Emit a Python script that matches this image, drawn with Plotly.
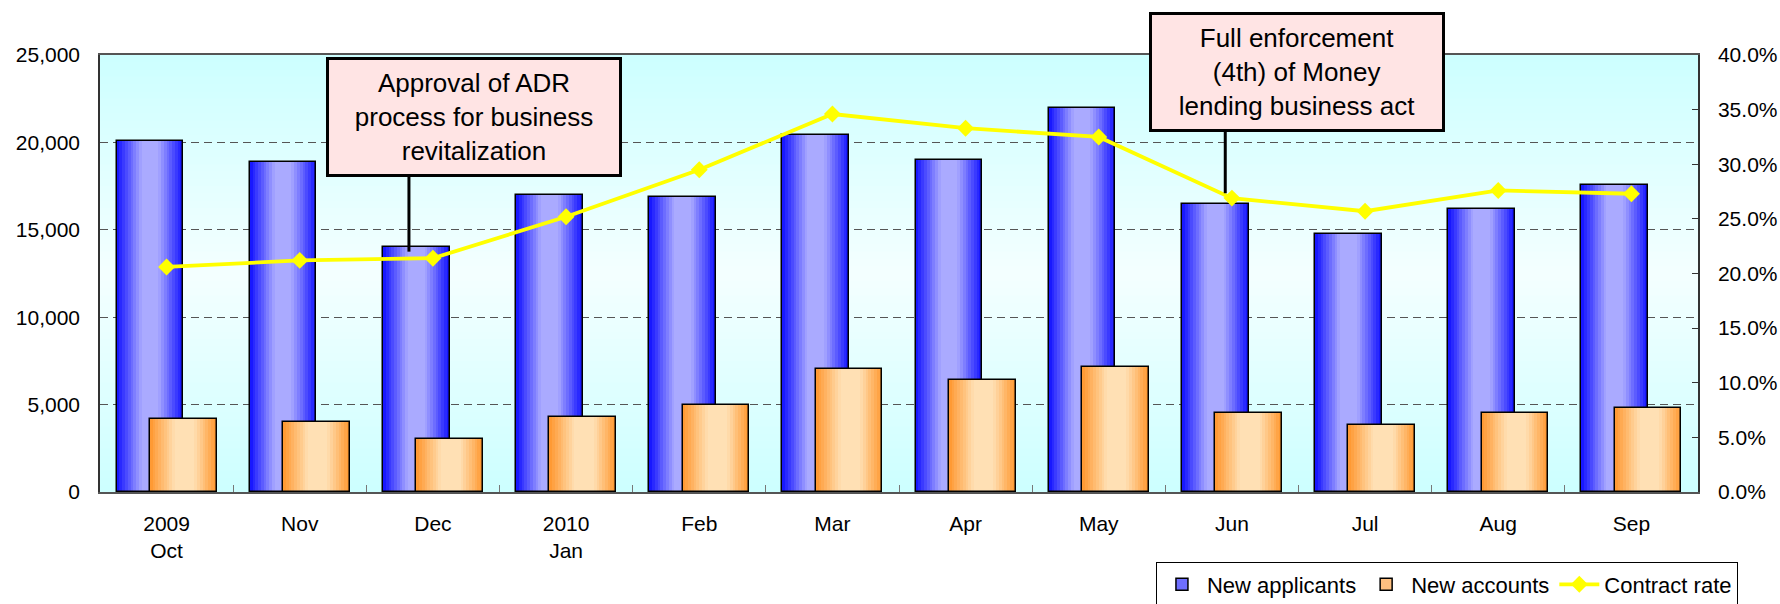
import plotly.graph_objects as go

# ---------------- data ----------------
categories = ["2009<br>Oct", "Nov", "Dec", "2010<br>Jan", "Feb", "Mar",
              "Apr", "May", "Jun", "Jul", "Aug", "Sep"]
new_applicants = [20100, 18900, 14000, 17000, 16900, 20400, 19000, 21950, 16500, 14750, 16200, 17550]
new_accounts = [4200, 4000, 3050, 4300, 5000, 7050, 6400, 7150, 4500, 3850, 4500, 4800]
contract_rate = [20.6, 21.2, 21.4, 25.2, 29.5, 34.6, 33.3, 32.5, 26.9, 25.7, 27.6, 27.3]

left_ticks = [0, 5000, 10000, 15000, 20000, 25000]
right_ticks = [0, 5, 10, 15, 20, 25, 30, 35, 40]
right_tick_text = ["0.0%", "5.0%", "10.0%", "15.0%", "20.0%", "25.0%", "30.0%", "35.0%", "40.0%"]

note1 = "Approval of ADR<br>process for business<br>revitalization"
note2 = "Full enforcement<br>(4th) of Money<br>lending business act"

FONT = "Liberation Sans, Arial, sans-serif"


def lerp(c1, c2, t):
    return "rgb(%d,%d,%d)" % tuple(round(a + (b - a) * t) for a, b in zip(c1, c2))


def profile(s, lo, hi):
    if s < lo:
        return s / lo
    if s > hi:
        return (1 - s) / (1 - hi)
    return 1.0


fig = go.Figure()

BAR_W = 0.5
N = 24


def gradient_bars(values, base_offset, dark, light, lo, hi, name):
    for k in range(N):
        s = (k + 0.5) / N
        t = profile(s, lo, hi)
        off = base_offset + k * BAR_W / N
        fig.add_trace(go.Bar(
            x=categories, y=values, offset=off, width=BAR_W - k * BAR_W / N,
            marker=dict(color=lerp(dark, light, t), line=dict(width=0)),
            showlegend=False, hoverinfo="skip"))
    fig.add_trace(go.Bar(
        x=categories, y=values, offset=base_offset, width=BAR_W, name=name,
        marker=dict(color="rgba(0,0,0,0)", line=dict(color="black", width=1.5)),
        showlegend=False))


gradient_bars(new_applicants, -0.375, (16, 16, 255), (170, 170, 255), 0.38, 0.62, "New applicants")
gradient_bars(new_accounts, -0.125, (255, 150, 45), (255, 224, 180), 0.38, 0.66, "New accounts")

# legend-only entries
fig.add_trace(go.Bar(x=[categories[0]], y=[None], name="New applicants",
                     marker=dict(color="#6e6eff", line=dict(color="black", width=1.5)),
                     legendrank=1))
fig.add_trace(go.Bar(x=[categories[0]], y=[None], name="New accounts",
                     marker=dict(color="#ffc080", line=dict(color="black", width=1.5)),
                     legendrank=2))

fig.add_trace(go.Scatter(
    x=categories, y=contract_rate, yaxis="y2", mode="lines+markers",
    name="Contract rate", line=dict(color="#ffff00", width=3.8),
    marker=dict(symbol="diamond", size=13, color="#ffff00"),
    legendrank=3))

# background gradient bands
shapes = []
NB = 60
c_edge = (204, 255, 255)
c_mid = (244, 255, 255)
for i in range(NB):
    t = (i + 0.5) / NB
    L = 1 - abs(t - 0.5) * 2
    shapes.append(dict(type="rect", xref="paper", yref="paper",
                       x0=0, x1=1, y0=i / NB, y1=(i + 1) / NB + 0.002,
                       fillcolor=lerp(c_edge, c_mid, L), line=dict(width=0),
                       layer="below"))

# connector lines for the notes
i_dec = categories.index("Dec")
i_jun = categories.index("Jun")
shapes.append(dict(type="line", xref="x", yref="y",
                   x0=i_dec - 0.18, x1=i_dec - 0.18,
                   y0=new_applicants[i_dec] - 250, y1=18300,
                   line=dict(color="black", width=3)))
shapes.append(dict(type="line", xref="x", yref="y",
                   x0=i_jun - 0.05, x1=i_jun - 0.05,
                   y0=contract_rate[i_jun] / 40 * 25000 + 280, y1=20800,
                   line=dict(color="black", width=3)))

annotations = [
    dict(text=note1, xref="paper", yref="paper", x=0.2343, y=0.858,
         xanchor="center", yanchor="middle", showarrow=False,
         width=280, height=104, borderpad=5, borderwidth=3,
         bordercolor="black", bgcolor="#ffe4e4",
         font=dict(family=FONT, size=26, color="black")),
    dict(text=note2, xref="paper", yref="paper", x=0.7492, y=0.9606,
         xanchor="center", yanchor="middle", showarrow=False,
         width=280, height=104, borderpad=5, borderwidth=3,
         bordercolor="black", bgcolor="#ffe4e4",
         font=dict(family=FONT, size=26, color="black")),
]

fig.update_layout(
    width=1780, height=604,
    margin=dict(l=100, r=82, t=55, b=112, autoexpand=False),
    paper_bgcolor="white", plot_bgcolor="#e8ffff",
    barmode="overlay", bargap=0,
    font=dict(family=FONT, size=21, color="black"),
    shapes=shapes, annotations=annotations,
    xaxis=dict(type="category", categoryorder="array", categoryarray=categories,
               range=[-0.5, len(categories) - 0.5],
               showline=True, linecolor="#555", linewidth=1.5, mirror=True,
               ticks="inside", tickson="boundaries", ticklen=7, tickcolor="#777",
               showgrid=False, ticklabelstandoff=12,
               tickfont=dict(size=21)),
    yaxis=dict(range=[0, 25000], tickvals=left_ticks, tickformat=",d",
               showline=True, linecolor="#333", linewidth=1.5,
               ticks="", showgrid=True, gridcolor="#555", gridwidth=1,
               griddash="8px,5px", zeroline=False, ticklabelstandoff=14,
               tickfont=dict(size=21)),
    yaxis2=dict(range=[0, 40], tickvals=right_ticks, ticktext=right_tick_text,
                overlaying="y", side="right", showgrid=False, zeroline=False,
                showline=True, linecolor="#333", linewidth=1.5,
                ticks="inside", ticklen=6, tickcolor="#333",
                ticklabelstandoff=14, tickfont=dict(size=21)),
    legend=dict(orientation="h", x=1.025, xanchor="right", y=-0.262, yanchor="bottom",
                bgcolor="white", bordercolor="black", borderwidth=1,
                font=dict(size=22), traceorder="normal",
                itemwidth=40, tracegroupgap=0),
    showlegend=True,
)

fig.write_html("out.html")
